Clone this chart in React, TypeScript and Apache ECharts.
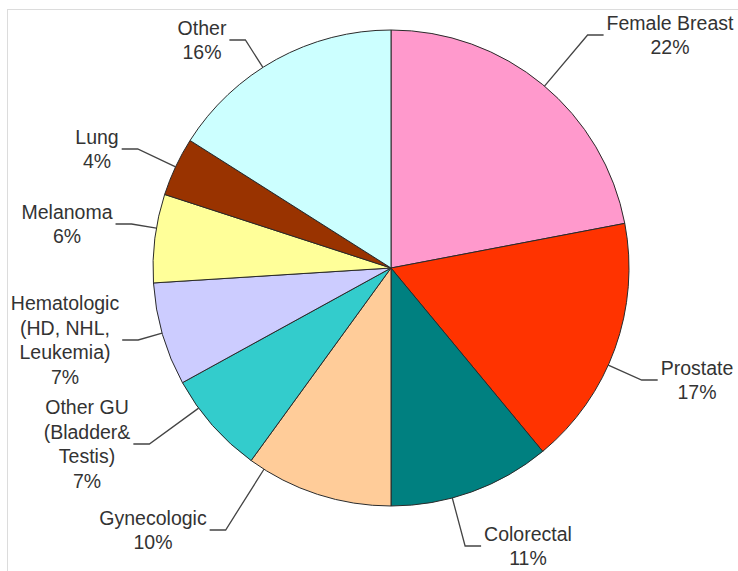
import React, { useEffect, useRef } from "react";
import * as echarts from "echarts";

// ---- data ----
const categories: string[] = [
  "Female Breast",
  "Prostate",
  "Colorectal",
  "Gynecologic",
  "Other GU\n(Bladder&\nTestis)",
  "Hematologic\n(HD, NHL,\nLeukemia)",
  "Melanoma",
  "Lung",
  "Other",
];
const percentValues: number[] = [22, 17, 11, 10, 7, 7, 6, 4, 16];
const sliceColors: string[] = [
  "#FF99CC",
  "#FF3300",
  "#008080",
  "#FFCC99",
  "#33CCCC",
  "#CCCCFF",
  "#FFFF99",
  "#993300",
  "#CCFFFF",
];

// ---- layout (not data) ----
const CX = 391;
const CY = 268;
const R = 238;
const LEN2 = 16;
const GAP = 3;
// label block centres [x, y]
const labelCenters: [number, number][] = [
  [670, 35],
  [697, 380],
  [528, 546],
  [153, 530],
  [87, 444],
  [65, 340],
  [67, 224],
  [97, 149],
  [202, 40],
];

export default function App() {
  const ref = useRef<HTMLDivElement>(null);

  useEffect(() => {
    document.body.style.margin = "0";
    if (!ref.current) return;
    const chart = echarts.init(ref.current, null, { renderer: "svg" });

    const data = categories.map((name, i) => ({
      name,
      value: percentValues[i],
      itemStyle: { color: sliceColors[i] },
    }));

    chart.setOption({
      animation: false,
      backgroundColor: "#ffffff",
      graphic: [
        {
          type: "line",
          shape: { x1: 7, y1: 9.5, x2: 738, y2: 9.5 },
          style: { stroke: "#dcdcdc", lineWidth: 1 },
          silent: true,
        },
        {
          type: "line",
          shape: { x1: 7.5, y1: 9, x2: 7.5, y2: 571 },
          style: { stroke: "#dcdcdc", lineWidth: 1 },
          silent: true,
        },
      ],
      series: [
        {
          type: "pie",
          center: [CX, CY],
          radius: R,
          startAngle: 90,
          clockwise: true,
          avoidLabelOverlap: false,
          data,
          itemStyle: { borderColor: "#2a2a2a", borderWidth: 1 },
          emphasis: { disabled: true },
          label: {
            show: true,
            position: "outside",
            formatter: (p: any) => `${p.name}\n${Math.round(p.percent)}%`,
            fontFamily: "'Liberation Sans', Arial, sans-serif",
            fontSize: 19.5,
            lineHeight: 24.5,
            color: "#333333",
          },
          labelLine: {
            show: true,
            length: 20,
            length2: LEN2,
            lineStyle: { color: "#444444", width: 1.3 },
          },
          labelLayout: (p: any) => {
            const [x, y] = labelCenters[p.dataIndex];
            const w = p.labelRect.width;
            const onLeft = x < CX;
            const ax = onLeft ? x + w / 2 + GAP : x - w / 2 - GAP;
            const ex = onLeft ? ax + LEN2 : ax - LEN2;
            const ey = y;
            const dx = ex - CX;
            const dy = ey - CY;
            const d = Math.sqrt(dx * dx + dy * dy);
            const sx = CX + (R * dx) / d;
            const sy = CY + (R * dy) / d;
            return {
              x,
              y,
              align: "center",
              verticalAlign: "middle",
              labelLinePoints: [
                [sx, sy],
                [ex, ey],
                [ax, y],
              ],
            };
          },
        },
      ],
    });

    return () => chart.dispose();
  }, []);

  return <div ref={ref} style={{ width: 738, height: 571 }} />;
}
